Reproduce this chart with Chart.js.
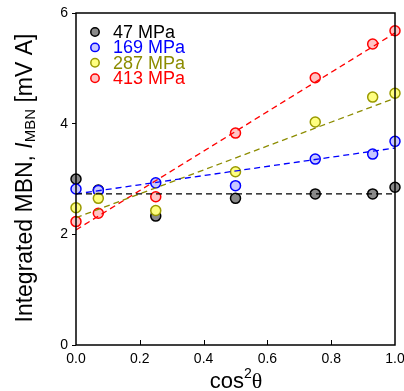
<!DOCTYPE html>
<html lang="en">
<head>
    <meta charset="UTF-8">
    <title>MBN vs cos2 theta</title>
    <script src="https://cdn.jsdelivr.net/npm/chart.js"></script>
    <style>
        html, body { margin: 0; padding: 0; overflow: hidden; background: #fff; }
        #wrap { width: 420px; height: 391px; position: relative; }
    </style>
</head>
<body>
    <div id="wrap"><canvas id="mbnChart"></canvas></div>

    <script>
        // data
        const cos2 = [0, 0.07, 0.25, 0.5, 0.75, 0.93, 1.0];
        const mpa47  = [3.00, 2.80, 2.33, 2.65, 2.73, 2.73, 2.85];
        const mpa169 = [2.82, 2.79, 2.93, 2.88, 3.36, 3.45, 3.68];
        const mpa287 = [2.48, 2.65, 2.43, 3.13, 4.03, 4.48, 4.55];
        const mpa413 = [2.23, 2.38, 2.68, 3.83, 4.83, 5.44, 5.68];

        // fitted lines, end points at cos2 = 0 and 1
        const fitX   = [0, 1];
        const fit47  = [2.73, 2.73];
        const fit169 = [2.73, 3.56];
        const fit287 = [2.30, 4.46];
        const fit413 = [2.08, 5.64];

        const labels = ['47 MPa', '169 MPa', '287 MPa', '413 MPa'];
        const yTicks = [0, 2, 4, 6];
        const xTicks = [0, 0.2, 0.4, 0.6, 0.8, 1.0];

        const edge  = ['#000000', '#0000ff', '#9a9a00', '#ff0000'];
        const fill  = ['#8a8a8a', '#c8c8ff', '#ffff80', '#ffc4c4'];
        const lineC = ['#000000', '#0000ff', '#8c8c00', '#ff0000'];
        const textC = ['#000000', '#0000ff', '#8c8c00', '#ff0000'];

        const pts = (ys) => cos2.map((x, i) => ({ x: x, y: ys[i] }));
        const fitPts = (ys) => fitX.map((x, i) => ({ x: x, y: ys[i] }));

        const series = [mpa47, mpa169, mpa287, mpa413];
        const fits = [fit47, fit169, fit287, fit413];

        const datasets = [];
        // lines first so they sit on top of the markers
        fits.forEach((f, i) => {
            datasets.push({
                label: labels[i] + ' fit',
                data: fitPts(f),
                showLine: true,
                borderColor: lineC[i],
                borderWidth: 1.3,
                borderDash: [6, 4],
                pointRadius: 0,
                order: 0
            });
        });
        // markers: red on top, black at the bottom
        series.forEach((s, i) => {
            datasets.push({
                label: labels[i],
                data: pts(s),
                showLine: false,
                pointRadius: 5,
                pointBorderWidth: 1.5,
                pointBackgroundColor: fill[i],
                pointBorderColor: edge[i],
                clip: false,
                order: 4 - i
            });
        });

        // box, inward x ticks, axis titles and legend
        const decor = {
            id: 'decor',
            afterDatasetsDraw(chart) {
                const c = chart.ctx;
                const a = chart.chartArea;
                const xs = chart.scales.x;
                c.save();
                c.strokeStyle = '#000';
                c.lineWidth = 1.5;
                c.strokeRect(a.left, a.top, a.right - a.left, a.bottom - a.top);
                c.lineWidth = 1;
                xTicks.slice(1, -1).forEach(v => {
                    const px = Math.round(xs.getPixelForValue(v)) + 0.5;
                    c.beginPath();
                    c.moveTo(px, a.bottom);
                    c.lineTo(px, a.bottom - 5);
                    c.stroke();
                });

                // legend
                c.textBaseline = 'middle';
                c.textAlign = 'left';
                c.font = '18px "Liberation Sans", Arial, sans-serif';
                labels.forEach((l, i) => {
                    const y = 32 + i * 15.4;
                    c.beginPath();
                    c.arc(95, y, 4.2, 0, Math.PI * 2);
                    c.fillStyle = fill[i];
                    c.fill();
                    c.lineWidth = 1.5;
                    c.strokeStyle = edge[i];
                    c.stroke();
                    c.fillStyle = textC[i];
                    c.fillText(l, 113, y + 1);
                });

                // x title: cos^2 theta
                c.fillStyle = '#000';
                c.textBaseline = 'alphabetic';
                const big = '22px "Liberation Sans", Arial, sans-serif';
                const sup = '14px "Liberation Sans", Arial, sans-serif';
                const th = '22px "Liberation Serif", "Times New Roman", serif';
                c.font = big; const w1 = c.measureText('cos').width;
                c.font = sup; const w2 = c.measureText('2').width;
                c.font = th; const w3 = c.measureText('\u03b8').width;
                let x0 = 236 - (w1 + w2 + w3) / 2;
                const yb = 388;
                c.font = big; c.fillText('cos', x0, yb); x0 += w1;
                c.font = sup; c.fillText('2', x0, yb - 10); x0 += w2;
                c.font = th; c.fillText('\u03b8', x0, yb);

                // y title: Integrated MBN, I_MBN [mV A]
                const yBig = '23px "Liberation Sans", Arial, sans-serif';
                const ySub = '15px "Liberation Sans", Arial, sans-serif';
                c.translate(25, 178);
                c.rotate(-Math.PI / 2);
                const parts = [
                    { t: 'Integrated MBN, ', f: yBig, dy: 0 },
                    { t: 'I', f: 'italic ' + yBig, dy: 0 },
                    { t: 'MBN', f: ySub, dy: 5 },
                    { t: ' [mV A]', f: yBig, dy: 0 }
                ];
                let total = 0;
                parts.forEach(p => { c.font = p.f; p.w = c.measureText(p.t).width; total += p.w; });
                let px = -total / 2;
                c.textBaseline = 'middle';
                parts.forEach(p => {
                    c.font = p.f;
                    c.fillText(p.t, px, p.dy + 1);
                    px += p.w;
                });
                c.restore();
            }
        };

        const ctx = document.getElementById('mbnChart').getContext('2d');
        const chart = new Chart(ctx, {
            type: 'scatter',
            data: { datasets: datasets },
            options: {
                responsive: true,
                maintainAspectRatio: false,
                animation: false,
                layout: { padding: { top: 13, right: 25, bottom: 0, left: 0 } },
                plugins: { legend: { display: false }, tooltip: { enabled: false } },
                scales: {
                    x: {
                        type: 'linear',
                        min: 0, max: 1,
                        afterFit: (s) => { s.height = 46; },
                        afterBuildTicks: (s) => { s.ticks = xTicks.map(v => ({ value: v })); },
                        grid: { display: false, drawTicks: false },
                        border: { display: false },
                        ticks: {
                            padding: 6,
                            color: '#000',
                            font: { family: '"Liberation Sans", Arial, sans-serif', size: 14 },
                            callback: (v) => v.toFixed(1)
                        }
                    },
                    y: {
                        min: 0, max: 6,
                        afterFit: (s) => { s.width = 76; },
                        afterBuildTicks: (s) => { s.ticks = yTicks.map(v => ({ value: v })); },
                        grid: { drawOnChartArea: false, tickLength: 4, tickColor: '#000', tickWidth: 1 },
                        border: { display: false },
                        ticks: {
                            padding: 4,
                            color: '#000',
                            font: { family: '"Liberation Sans", Arial, sans-serif', size: 14 }
                        }
                    }
                }
            },
            plugins: [decor]
        });
    </script>
</body>
</html>
